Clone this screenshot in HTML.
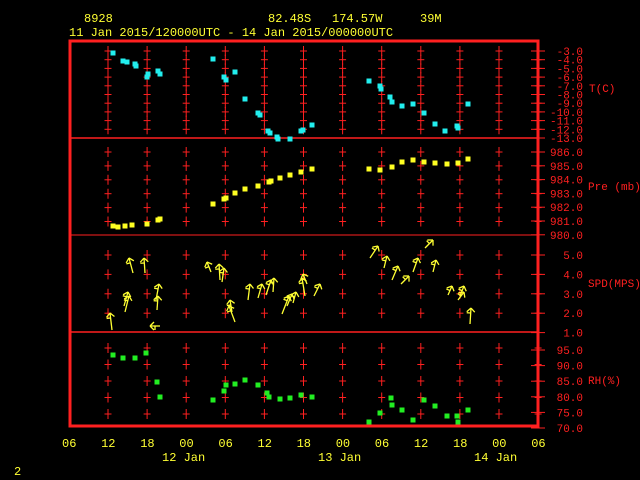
<!DOCTYPE html>
<html><head><style>
html,body{margin:0;padding:0;background:#000;}
svg{display:block;}
text{font-family:"Liberation Mono",monospace;font-size:12px;}
</style></head><body>
<svg width="640" height="480" viewBox="0 0 640 480" xmlns="http://www.w3.org/2000/svg">
<rect width="640" height="480" fill="#000"/>
<g fill="#ffff33">
<text x="84" y="22">8928</text>
<text x="268" y="22">82.48S</text>
<text x="332" y="22">174.57W</text>
<text x="420" y="22">39M</text>
<text x="69" y="36">11 Jan 2015/120000UTC - 14 Jan 2015/000000UTC</text>
</g>
<g id="crosses" stroke="#ff2020" stroke-width="1"></g>
<g stroke="#ff2020" fill="none">
<rect x="70" y="41" width="468" height="385" stroke-width="3"/>
<line x1="70" y1="138" x2="538" y2="138" stroke-width="1.5"/>
<line x1="70" y1="235" x2="538" y2="235" stroke-width="1"/>
<line x1="70" y1="332" x2="538" y2="332" stroke-width="1.5"/>
</g>
<g id="right" fill="#ff2020"></g>
<g fill="#ff2020">
<text x="589" y="92" style="font-size:11px">T(C)</text>
<text x="588" y="190" style="font-size:11px">Pre (mb)</text>
<text x="588" y="287" style="font-size:11px">SPD(MPS)</text>
<text x="588" y="384" style="font-size:11px">RH(%)</text>
</g>
<g fill="#ffff33" id="xl"></g>
<g fill="#ffff33">
<text x="162" y="461">12 Jan</text>
<text x="318" y="461">13 Jan</text>
<text x="474" y="461">14 Jan</text>
<text x="14" y="475">2</text>
</g>
<g id="pts"></g>
<g id="wind" stroke="#ffff33" stroke-width="1.3" fill="none"></g>
<script>
var NS="http://www.w3.org/2000/svg";
function el(p,t,a,txt){var e=document.createElementNS(NS,t);for(var k in a)e.setAttribute(k,a[k]);if(txt!=null)e.textContent=txt;document.getElementById(p).appendChild(e);}
var cols=[];for(var i=0;i<12;i++)cols.push(108+39.1*i);
var ys=[];
for(var i=0;i<10;i++)ys.push(51+8.7*i);
for(var i=0;i<6;i++)ys.push(152+13.9*i);
for(var i=0;i<4;i++)ys.push(255+19.4*i);
for(var i=0;i<5;i++)ys.push(348+16.5*i);
cols.forEach(function(x){ys.forEach(function(y){
 el("crosses","line",{x1:x-3.5,y1:y,x2:x+3.5,y2:y});
 el("crosses","line",{x1:x,y1:y-5,x2:x,y2:y+5});});});
function rl(v,y){el("right","text",{x:583,y:y+4,"text-anchor":"end",style:"font-size:11px"},v);el("right","line",{x1:531,y1:y,x2:545,y2:y,stroke:"#ff2020"});}
for(var i=0;i<11;i++){rl("-"+(3+i)+".0",51+8.7*i);}
for(var i=0;i<7;i++){rl((986-i)+".0",152+13.8*i);}
for(var i=0;i<5;i++){rl((5-i)+".0",255+19.4*i);}
for(var i=0;i<6;i++){rl((95-5*i)+".0",350+15.6*i);}
var xl=["06","12","18","00","06","12","18","00","06","12","18","00","06"];
xl.forEach(function(t,i){el("xl","text",{x:69+39.1*i-7,y:447},t);});
function sq(a,c){a.forEach(function(p){el("pts","rect",{x:p[0]-2.5,y:p[1]-2.5,width:5,height:5,fill:c});});}
sq([[113,53],[123,61],[127,62],[135,64],[136,66],[148,74],[147,77],[158,71],[160,74],[213,59],[224,77],[226,80],[235,72],[245,99],[258,113],[260,115],[268,131],[270,133],[277,137],[278,139],[290,139],[301,131],[303,130],[312,125],[369,81],[380,86],[381,89],[390,97],[392,102],[402,106],[413,104],[424,113],[435,124],[445,131],[458,128],[468,104],[457,126]],"#22eeee");
sq([[113,226],[118,227],[125,226],[132,225],[147,224],[158,220],[160,219],[213,204],[224,199],[226,198],[235,193],[245,189],[258,186],[269,182],[271,181],[280,178],[290,175],[301,172],[312,169],[369,169],[380,170],[392,167],[402,162],[413,160],[424,162],[435,163],[447,164],[458,163],[468,159]],"#ffff22");
sq([[113,355],[123,358],[135,358],[146,353],[157,382],[160,397],[213,400],[224,391],[226,385],[235,384],[245,380],[258,385],[267,393],[269,397],[280,399],[290,398],[301,395],[312,397],[369,422],[380,413],[391,398],[392,405],[402,410],[413,420],[424,400],[435,406],[447,416],[458,422],[468,410],[457,416]],"#22ee22");
var w=[[112,330,110,313],[125,312,129,296],[124,306,128,292],[133,273,129,258],[145,273,144,258],[157,310,158,296],[156,300,159,284],[160,326,150,326],[211,272,207,262],[220,280,219,264],[222,282,224,268],[235,322,229,306],[232,312,230,300],[248,300,250,284],[258,298,262,284],[266,295,271,280],[273,292,274,278],[282,314,289,296],[287,306,292,294],[293,303,296,292],[305,296,302,278],[307,284,303,274],[314,296,320,284],[370,258,378,246],[384,268,387,256],[392,280,398,266],[401,284,409,276],[413,272,418,258],[425,248,433,240],[433,272,436,260],[448,295,452,286],[458,300,464,292],[460,296,464,286],[470,324,471,308]];
w.forEach(function(s){el("wind","line",{x1:s[0],y1:s[1],x2:s[2],y2:s[3]});
 var dx=s[2]-s[0],dy=s[3]-s[1],L=Math.hypot(dx,dy),ux=dx/L,uy=dy/L;
 el("wind","line",{x1:s[2],y1:s[3],x2:s[2]+uy*4-ux*4,y2:s[3]-ux*4-uy*4});
 el("wind","line",{x1:s[2],y1:s[3],x2:s[2]-uy*4-ux*4,y2:s[3]+ux*4-uy*4});
 el("wind","line",{x1:s[2]-ux*5,y1:s[3]-uy*5,x2:s[2]-ux*5+uy*4,y2:s[3]-uy*5-ux*4});
});
</script>
</svg>
</body></html>
